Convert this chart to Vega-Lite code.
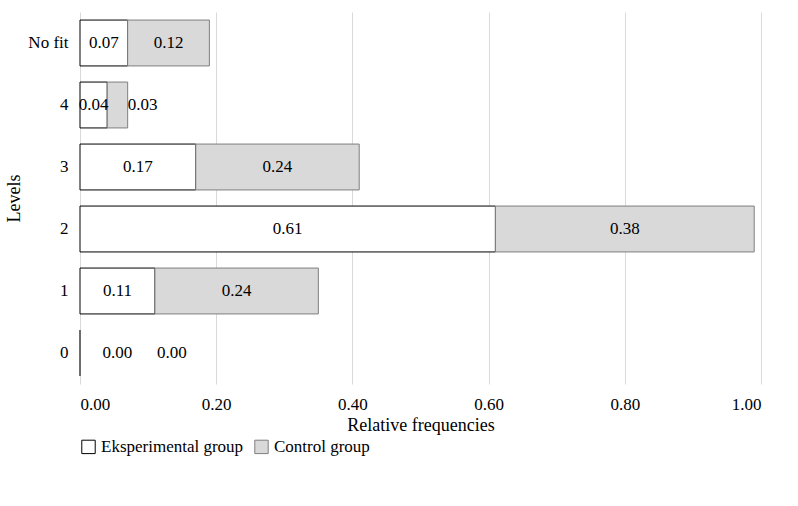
{
  "$schema": "https://vega.github.io/schema/vega-lite/v6.json",
  "width": 681,
  "height": 372,
  "padding": {"left": 5, "top": 12, "right": 20, "bottom": 5},
  "background": "white",
  "data": {"values": [
    {"level": "No fit", "group": "Eksperimental group", "order": 1, "value": 0.07},
    {"level": "No fit", "group": "Control group", "order": 2, "value": 0.12},
    {"level": "4", "group": "Eksperimental group", "order": 1, "value": 0.04},
    {"level": "4", "group": "Control group", "order": 2, "value": 0.03},
    {"level": "3", "group": "Eksperimental group", "order": 1, "value": 0.17},
    {"level": "3", "group": "Control group", "order": 2, "value": 0.24},
    {"level": "2", "group": "Eksperimental group", "order": 1, "value": 0.61},
    {"level": "2", "group": "Control group", "order": 2, "value": 0.38},
    {"level": "1", "group": "Eksperimental group", "order": 1, "value": 0.11},
    {"level": "1", "group": "Control group", "order": 2, "value": 0.24},
    {"level": "0", "group": "Eksperimental group", "order": 1, "value": 0.0},
    {"level": "0", "group": "Control group", "order": 2, "value": 0.0}
  ]},
  "transform": [
    {"stack": "value", "groupby": ["level"], "sort": [{"field": "order"}], "as": ["v0", "v1"]},
    {"calculate": "datum.level === '0' ? (datum.order === 1 ? 0.055 : 0.135) : (datum.level === '4' && datum.order === 2 ? 0.092 : (datum.v0 + datum.v1) / 2)", "as": "mid"}
  ],
  "encoding": {
    "y": {
      "field": "level", "type": "nominal",
      "sort": ["No fit", "4", "3", "2", "1", "0"],
      "title": "Levels",
      "scale": {"paddingInner": 0.26, "paddingOuter": 0.13},
      "axis": {"ticks": false, "domain": false, "labelFontSize": 17, "titleFontSize": 18, "titleFontWeight": "normal", "labelPadding": 12, "labelColor": "#000", "titleColor": "#000"}
    }
  },
  "layer": [
    {
      "mark": {"type": "bar", "strokeWidth": 1},
      "encoding": {
        "x": {
          "field": "v0", "type": "quantitative",
          "scale": {"domain": [0, 1]},
          "title": "Relative frequencies",
          "axis": {"format": ".2f", "values": [0, 0.2, 0.4, 0.6, 0.8, 1.0], "labelOverlap": false, "ticks": false, "domain": false, "grid": true, "gridColor": "#d9d9d9", "labelFontSize": 17, "titleFontSize": 18, "titleFontWeight": "normal", "labelPadding": 12, "labelColor": "#000", "titleColor": "#000"}
        },
        "x2": {"field": "v1"},
        "fill": {
          "field": "group", "type": "nominal",
          "scale": {"domain": ["Eksperimental group", "Control group"], "range": ["#ffffff", "#d9d9d9"]},
          "legend": {"orient": "bottom", "title": null, "symbolType": "square", "symbolSize": 180, "symbolStrokeColor": "#000", "symbolStrokeWidth": 1, "labelFontSize": 17, "labelLimit": 0, "labelColor": "#000", "columnPadding": 8, "offset": 4}
        },
        "stroke": {
          "field": "group", "type": "nominal",
          "scale": {"domain": ["Eksperimental group", "Control group"], "range": ["#000000", "#7f7f7f"]},
          "legend": null
        },
        "order": {"field": "order"}
      }
    },
    {
      "mark": {"type": "text", "fontSize": 17, "color": "#000"},
      "encoding": {
        "x": {"field": "mid", "type": "quantitative"},
        "text": {"field": "value", "type": "quantitative", "format": ".2f"}
      }
    }
  ],
  "config": {
    "font": "Liberation Serif",
    "view": {"stroke": null}
  }
}
